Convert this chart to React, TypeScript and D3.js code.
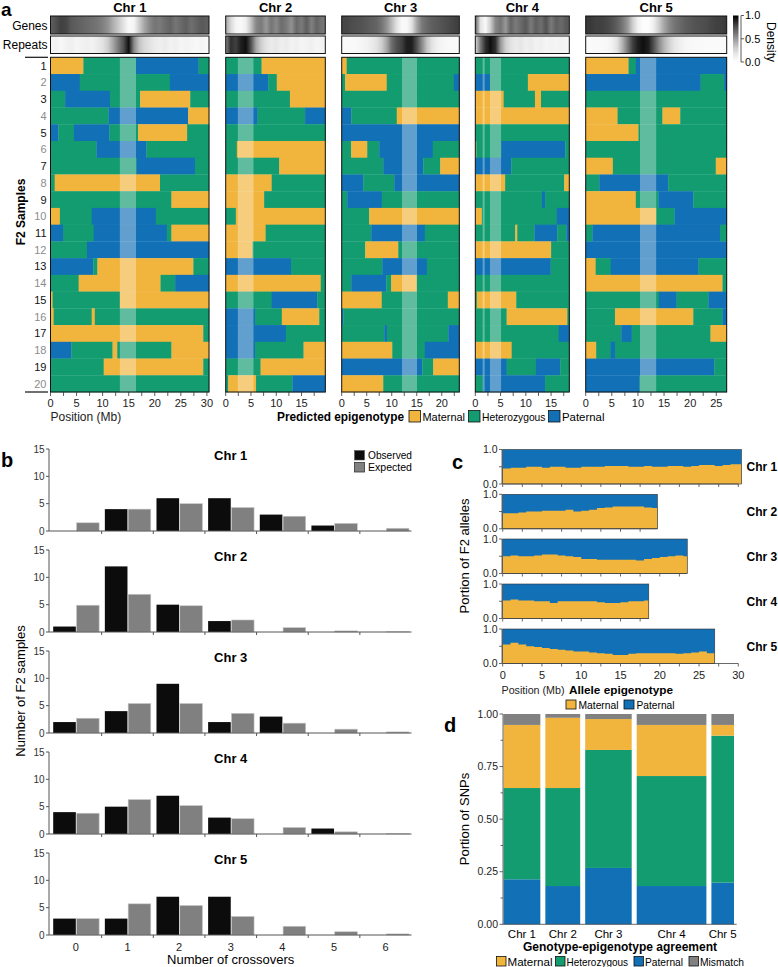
import React from 'react';
import * as d3 from 'd3';

const FONT = '"Liberation Sans", Arial, Helvetica, sans-serif';
const MAT = '#F1B53E';
const HET = '#129C70';
const PAT = '#1270B6';
const MIS = '#818181';
const STATE_COLOR: Record<string, string> = { M: MAT, H: HET, P: PAT };

// ---------- shared data ----------
const chromosomes = ['Chr 1', 'Chr 2', 'Chr 3', 'Chr 4', 'Chr 5'];
const chrLengths = [30.4, 19.7, 23.5, 18.6, 27.0];
const sampleIds = d3.range(1, 21);

// ---------- panel a: density tracks (1 Mb bins) ----------
const geneDensity = [
  [0.7, 0.75, 0.8, 0.78, 0.72, 0.7, 0.68, 0.66, 0.64, 0.62, 0.58, 0.52, 0.42, 0.32, 0.2, 0.05, 0.08, 0.3, 0.45, 0.55, 0.62, 0.6, 0.65, 0.68, 0.62, 0.66, 0.7, 0.64, 0.68, 0.72, 0.7],
  [0.45, 0.25, 0.08, 0.05, 0.12, 0.35, 0.55, 0.6, 0.5, 0.62, 0.55, 0.65, 0.6, 0.52, 0.66, 0.6, 0.7, 0.58, 0.68, 0.62],
  [0.78, 0.78, 0.76, 0.75, 0.74, 0.72, 0.7, 0.68, 0.62, 0.52, 0.38, 0.2, 0.05, 0.05, 0.2, 0.45, 0.6, 0.66, 0.7, 0.72, 0.74, 0.76, 0.78, 0.8],
  [0.7, 0.2, 0.05, 0.3, 0.55, 0.62, 0.5, 0.68, 0.6, 0.66, 0.72, 0.6, 0.7, 0.64, 0.74, 0.6, 0.7, 0.66, 0.72],
  [0.82, 0.82, 0.8, 0.8, 0.78, 0.75, 0.7, 0.62, 0.5, 0.3, 0.1, 0.02, 0.02, 0.12, 0.3, 0.45, 0.55, 0.62, 0.66, 0.7, 0.72, 0.74, 0.75, 0.76, 0.78, 0.8, 0.8, 0.82],
];
const repeatDensity = [
  [0.08, 0.1, 0.06, 0.1, 0.12, 0.08, 0.1, 0.12, 0.1, 0.15, 0.2, 0.3, 0.45, 0.6, 0.75, 0.95, 0.55, 0.35, 0.25, 0.2, 0.15, 0.12, 0.15, 0.1, 0.12, 0.08, 0.1, 0.08, 0.06, 0.08, 0.05],
  [0.55, 0.85, 0.8, 0.9, 0.95, 0.75, 0.45, 0.3, 0.2, 0.15, 0.18, 0.12, 0.15, 0.1, 0.12, 0.08, 0.1, 0.12, 0.08, 0.1],
  [0.05, 0.04, 0.05, 0.06, 0.08, 0.1, 0.15, 0.2, 0.3, 0.45, 0.65, 0.75, 0.8, 0.9, 0.9, 0.75, 0.55, 0.35, 0.2, 0.12, 0.08, 0.06, 0.05, 0.05],
  [0.25, 0.6, 0.85, 0.95, 0.85, 0.5, 0.3, 0.2, 0.15, 0.18, 0.12, 0.15, 0.1, 0.12, 0.08, 0.1, 0.08, 0.1, 0.08],
  [0.04, 0.04, 0.05, 0.05, 0.06, 0.1, 0.2, 0.4, 0.6, 0.8, 0.9, 0.95, 0.9, 0.75, 0.55, 0.4, 0.28, 0.18, 0.12, 0.08, 0.06, 0.05, 0.05, 0.04, 0.04, 0.04, 0.04, 0.04],
];

// centromere highlight (Mb)
const centromeres = [
  [[13.3, 16.4]],
  [[2.4, 5.5]],
  [[12.05, 15.05]],
  [[1.45, 1.85], [2.9, 5.1]],
  [[10.4, 13.5]],
];

// predicted epigenotype blocks, one string per F2 sample: state + end (Mb)
const chr1Blocks = [
  'M6.3 H16.4 P28.4 H', 'P5.6 H22.9 P', 'H2.8 P11.4 H17.2 M26.8 H', 'H11.1 P26.4 M',
  'P1.5 H4.5 P11.3 H16.8 M26.2 H', 'H8.8 P18.4 H', 'H16.5 P27.7 H', 'H0.8 M21.0 H',
  'H23.2 M', 'M1.8 H7.9 P20.2 H', 'P2.4 H8.3 P22.3 H23.2 M', 'H7.0 P',
  'P8.2 H9.0 M27.4 H', 'H5.4 M21.1 H23.9 P', 'M0.4 H13.3 M', 'M0.6 H7.9 M8.5 H',
  'M29.3 H', 'P4.0 H11.9 M12.8 H23.2 M', 'H10.2 M29.3 H', 'H',
];
const chr2Blocks = [
  'H7.1 M', 'P8.4 H10.1 M', 'H12.7 M', 'P6.3 H15.7 P', 'H', 'H2.2 M', 'H10.6 M',
  'M9.1 H', 'M7.6 H', 'H2.0 M', 'M7.9 H', 'M5.3 H', 'P12.9 H', 'M18.8 H',
  'H9.1 P18.1 H', 'P5.8 H11.1 M18.5 H', 'P11.9 H', 'P5.8 H15.4 M', 'H6.9 M',
  'H0.5 M6.0 H13.2 P',
];
const chr3Blocks = [
  'M1.0 H', 'H0.7 M9.0 H22.4 P', 'H', 'P1.9 H11.0 M', 'P', 'H1.9 M5.1 H7.5 P18.2 H',
  'H8.3 P16.3 H19.7 M', 'P4.3 H10.5 P', 'H1.1 P8.0 H', 'H5.5 M', 'H5.9 P16.6 H',
  'H4.7 M11.3 H', 'H8.1 P17.0 H', 'H1.9 P8.9 H9.9 M15.0 H', 'M8.0 H21.2 M', 'P0.3 H',
  'H8.5 P9.0 H21.3 P', 'M10.1 H16.6 P', 'P16.1 H18.3 M', 'M8.3 H',
];
const chr4Blocks = [
  'H', 'P2.9 H10.4 M', 'M5.6 H11.8 M13.0 H', 'M', 'H', 'M0.2 H5.1 P17.8 H', 'P7.1 H',
  'M5.9 H17.6 M', 'H13.2 P13.8 H', 'M1.3 H16.1 P', 'H7.9 M8.3 H11.7 P16.2 H18.0 P',
  'M15.0 H', 'P14.9 H', 'H', 'H0.3 M8.1 H', 'H6.2 M18.2 H', 'H16.5 P', 'M7.2 H',
  'P6.2 H12.0 P16.8 H', 'H1.5 P13.8 H',
];
const chr5Blocks = [
  'M8.2 H9.6 P', 'P22.0 H26.5 P', 'H', 'M6.1 H14.7 M18.1 H', 'M10.1 H', 'H',
  'M5.2 H24.9 M', 'H2.6 P15.8 H', 'M9.6 H13.9 P20.6 H', 'M13.5 H17.0 P', 'H1.3 P25.7 H',
  'P', 'M1.9 H4.8 P21.6 H', 'M26.2 H', 'H14.0 P17.4 H23.5 P', 'H5.6 M20.6 H26.2 P',
  'H6.8 P8.8 H23.9 M', 'M2.0 H4.8 P5.6 H', 'P24.6 H', 'P10.3 H',
];
const allBlocks = [chr1Blocks, chr2Blocks, chr3Blocks, chr4Blocks, chr5Blocks];

const epigenotypes = ['Maternal', 'Heterozygous', 'Paternal'];

// ---------- panel b ----------
const crossoverCounts = [0, 1, 2, 3, 4, 5, 6];
const observedCounts = [
  [0, 4, 6, 6, 3, 1, 0],
  [1, 12, 5, 2, 0, 0, 0],
  [2, 4, 9, 2, 3, 0, 0],
  [4, 5, 7, 3, 0, 1, 0],
  [3, 3, 7, 7, 0, 0, 0],
];
const expectedCounts = [
  [1.5, 4.0, 5.0, 4.3, 2.7, 1.4, 0.5],
  [4.9, 6.9, 4.8, 2.2, 0.8, 0.2, 0.05],
  [2.7, 5.4, 5.4, 3.6, 1.8, 0.7, 0.2],
  [3.8, 6.3, 5.2, 2.8, 1.2, 0.4, 0.05],
  [3.0, 5.7, 5.4, 3.4, 1.6, 0.6, 0.2],
];

// ---------- panel c: maternal allele portion along chromosome (1 Mb steps) ----------
const maternalPortion = [
  [0.45, 0.47, 0.47, 0.5, 0.5, 0.47, 0.5, 0.5, 0.47, 0.47, 0.5, 0.5, 0.5, 0.52, 0.52, 0.52, 0.5, 0.5, 0.52, 0.5, 0.5, 0.52, 0.52, 0.5, 0.52, 0.55, 0.55, 0.52, 0.55, 0.57, 0.57],
  [0.45, 0.45, 0.47, 0.5, 0.5, 0.52, 0.52, 0.52, 0.55, 0.5, 0.52, 0.55, 0.6, 0.62, 0.65, 0.65, 0.65, 0.65, 0.62, 0.6],
  [0.5, 0.52, 0.5, 0.5, 0.52, 0.55, 0.55, 0.52, 0.5, 0.48, 0.42, 0.42, 0.4, 0.4, 0.4, 0.4, 0.4, 0.38, 0.42, 0.45, 0.48, 0.5, 0.52, 0.5],
  [0.52, 0.55, 0.52, 0.52, 0.5, 0.5, 0.45, 0.5, 0.5, 0.5, 0.5, 0.5, 0.47, 0.45, 0.45, 0.47, 0.5, 0.5, 0.52],
  [0.55, 0.6, 0.55, 0.5, 0.48, 0.45, 0.42, 0.4, 0.38, 0.35, 0.35, 0.32, 0.3, 0.28, 0.25, 0.25, 0.28, 0.3, 0.3, 0.3, 0.3, 0.3, 0.28, 0.3, 0.32, 0.35, 0.3, 0.3],
];
const alleleTypes = ['Maternal', 'Paternal'];

// ---------- panel d ----------
const snpWeights = [37, 35, 46.7, 70, 22.7];
const agreePaternal = [0.214, 0.182, 0.268, 0.182, 0.198];
const agreeHetero = [0.434, 0.466, 0.561, 0.523, 0.699];
const agreeMaternal = [0.3, 0.334, 0.147, 0.243, 0.051];
const agreeMismatch = [0.052, 0.018, 0.024, 0.052, 0.052];
const agreeKeys = ['Paternal', 'Heterozygous', 'Maternal', 'Mismatch'];
const agreeLegend = ['Maternal', 'Heterozygous', 'Paternal', 'Mismatch'];
const agreeColors: Record<string, string> = { Maternal: MAT, Heterozygous: HET, Paternal: PAT, Mismatch: MIS };

// ---------- layout ----------
const A_LEFT = [50.5, 225.7, 341.7, 475.3, 585.7];
const A_RIGHT = [209, 325.3, 459.3, 569.3, 726.7];
const A_TOP = 57.3;
const A_BOTTOM = 392;

const B_TOPS = [449, 550, 651, 752, 853];
const B_H = 82;

const C_TOPS = [449.5, 494.3, 539, 584, 629];
const C_H = 34.5;

const parseBlocks = (row: string, len: number) => {
  let start = 0;
  return row.split(' ').map((tok) => {
    const end = tok.length > 1 ? +tok.slice(1) : len;
    const seg = { state: tok[0], start, end };
    start = end;
    return seg;
  });
};

const grey = (v: number) => d3.interpolateGreys(v);

function PanelA() {
  const rowScale = d3.scaleBand<number>().domain(sampleIds).range([A_TOP, A_BOTTOM]);
  return (
    <g>
      <defs>
        {chromosomes.map((_, i) => (
          <React.Fragment key={i}>
            {[geneDensity, repeatDensity].map((track, t) => (
              <linearGradient key={t} id={`dens-${t}-${i}`} x1="0" x2="1" y1="0" y2="0">
                {track[i].map((v, k) => (
                  <stop key={k} offset={Math.min(1, k / chrLengths[i])} stopColor={grey(v)} />
                ))}
              </linearGradient>
            ))}
          </React.Fragment>
        ))}
        <linearGradient id="dens-bar" x1="0" x2="0" y1="0" y2="1">
          {d3.range(0, 1.01, 0.1).map((v) => (
            <stop key={v} offset={v} stopColor={grey(1 - v)} />
          ))}
        </linearGradient>
      </defs>

      <text x={1} y={16} fontSize={19} fontWeight="bold">a</text>
      <text x={47.5} y={29.5} fontSize={12} textAnchor="end">Genes</text>
      <text x={47.5} y={48.5} fontSize={12} textAnchor="end">Repeats</text>

      {chromosomes.map((chr, i) => {
        const x = d3.scaleLinear().domain([0, chrLengths[i]]).range([A_LEFT[i], A_RIGHT[i]]);
        const w = A_RIGHT[i] - A_LEFT[i];
        const ticks = d3.range(0, chrLengths[i] + 0.01, 2.5);
        return (
          <g key={chr}>
            <text x={(A_LEFT[i] + A_RIGHT[i]) / 2} y={12} fontSize={13} fontWeight="bold" textAnchor="middle">{chr}</text>
            <rect x={A_LEFT[i]} y={16} width={w} height={18} fill={`url(#dens-0-${i})`} stroke="#111" strokeWidth={1} />
            <rect x={A_LEFT[i]} y={36} width={w} height={17.5} fill={`url(#dens-1-${i})`} stroke="#111" strokeWidth={1} />
            {allBlocks[i].map((row, r) =>
              parseBlocks(row, chrLengths[i]).map((s, k) => (
                <rect
                  key={`${r}-${k}`}
                  x={x(s.start)}
                  y={rowScale(r + 1)!}
                  width={x(s.end) - x(s.start) + 0.3}
                  height={rowScale.bandwidth() + 0.3}
                  fill={STATE_COLOR[s.state]}
                />
              ))
            )}
            {centromeres[i].map(([a, b], k) => (
              <rect key={k} x={x(a)} y={A_TOP} width={x(b) - x(a)} height={A_BOTTOM - A_TOP} fill="#fff" opacity={0.33} />
            ))}
            <rect x={A_LEFT[i]} y={A_TOP} width={w} height={A_BOTTOM - A_TOP} fill="none" stroke="#111" strokeWidth={1} />
            {ticks.map((t) => (
              <line key={t} x1={x(t)} x2={x(t)} y1={A_BOTTOM} y2={A_BOTTOM + 4} stroke="#333" strokeWidth={0.8} />
            ))}
            {ticks.filter((t) => t % 5 === 0).map((t) => (
              <text key={t} x={x(t)} y={407} fontSize={11} textAnchor="middle" fill="#222">{t}</text>
            ))}
          </g>
        );
      })}

      {sampleIds.map((s) => (
        <text key={s} x={46.5} y={rowScale(s)! + rowScale.bandwidth() / 2} dy="0.36em" fontSize={11}
          textAnchor="end" fill={s % 2 === 1 ? '#111' : '#8c8c8c'}>{s}</text>
      ))}
      <line x1={25} x2={48} y1={A_TOP} y2={A_TOP} stroke="#111" strokeWidth={1.2} />
      <line x1={25} x2={48} y1={A_BOTTOM} y2={A_BOTTOM} stroke="#111" strokeWidth={1.2} />
      <text transform={`translate(25,212) rotate(-90)`} fontSize={12} fontWeight="bold" textAnchor="middle">F2 Samples</text>

      <text x={50.5} y={421} fontSize={12} fill="#222">Position (Mb)</text>
      <text x={277} y={421} fontSize={12} fontWeight="bold" textLength={127} lengthAdjust="spacingAndGlyphs">Predicted epigenotype</text>
      {epigenotypes.map((e, k) => {
        const xs = [409, 468.5, 548.5][k];
        const tl = [42.5, 63.5, 42.5][k];
        return (
          <g key={e}>
            <rect x={xs} y={410.5} width={11.5} height={11.5} fill={STATE_COLOR[e[0]]} stroke="#111" strokeWidth={0.8} />
            <text x={xs + 13.5} y={421} fontSize={11.5} textLength={tl} lengthAdjust="spacingAndGlyphs">{e}</text>
          </g>
        );
      })}

      {/* density colour bar */}
      <rect x={733} y={15.5} width={5.5} height={46.5} fill="url(#dens-bar)" />
      <line x1={741} x2={741} y1={15.5} y2={62} stroke="#333" strokeWidth={0.8} />
      {[1, 0.5, 0].map((v) => {
        const y = 62 - v * 46.5;
        return (
          <g key={v}>
            <line x1={741} x2={744} y1={y} y2={y} stroke="#333" strokeWidth={0.8} />
            <text x={745} y={y} dy="0.35em" fontSize={11}>{v.toFixed(1)}</text>
          </g>
        );
      })}
      <text transform="translate(767,42) rotate(90)" fontSize={12} textAnchor="middle">Density</text>
    </g>
  );
}

function PanelB() {
  const xBand = d3.scaleBand<number>().domain(crossoverCounts).range([50, 411.5]);
  const bw = xBand.bandwidth();
  return (
    <g>
      <text x={1} y={467} fontSize={20} fontWeight="bold">b</text>
      {chromosomes.map((chr, i) => {
        const top = B_TOPS[i];
        const y = d3.scaleLinear().domain([0, 15]).range([top + B_H, top]);
        return (
          <g key={chr}>
            <text x={230.7} y={top + 11} fontSize={13} fontWeight="bold" textAnchor="middle">{chr}</text>
            {observedCounts[i].map((v, k) =>
              v > 0 ? (
                <rect key={`o${k}`} x={xBand(k)! + 3.2} y={y(v)} width={bw / 2 - 3.2} height={y(0) - y(v)} fill="#0c0c0c" />
              ) : null
            )}
            {expectedCounts[i].map((v, k) => (
              <rect key={`e${k}`} x={xBand(k)! + bw / 2 + 0.7} y={y(v)} width={bw / 2 - 3.2} height={y(0) - y(v)}
                fill="#808080" stroke="#c8c8c8" strokeWidth={0.6} />
            ))}
            <line x1={49} x2={49} y1={y(15)} y2={y(0)} stroke="#555" strokeWidth={1} />
            {[0, 5, 10, 15].map((t) => (
              <g key={t}>
                <line x1={46} x2={49} y1={y(t)} y2={y(t)} stroke="#555" strokeWidth={1} />
                <text x={44.5} y={y(t)} dy="0.35em" fontSize={10} textAnchor="end" fill="#333">{t}</text>
              </g>
            ))}
            <line x1={49} x2={411.5} y1={y(0)} y2={y(0)} stroke="#555" strokeWidth={1} />
            {crossoverCounts.slice(1).map((k) => (
              <line key={k} x1={xBand(k)!} x2={xBand(k)!} y1={y(0)} y2={y(0) + 3} stroke="#555" strokeWidth={1} />
            ))}
            {i === 4 &&
              crossoverCounts.map((k) => (
                <text key={k} x={xBand(k)! + bw / 2} y={950.5} fontSize={11} textAnchor="middle" fill="#222">{k}</text>
              ))}
          </g>
        );
      })}
      <rect x={354.5} y={450.5} width={10} height={9.5} fill="#0c0c0c" stroke="#555" strokeWidth={0.6} />
      <text x={368} y={459} fontSize={11} textLength={44} lengthAdjust="spacingAndGlyphs">Observed</text>
      <rect x={354.5} y={462.5} width={10} height={9.5} fill="#808080" stroke="#333" strokeWidth={0.8} />
      <text x={368} y={471} fontSize={11} textLength={44} lengthAdjust="spacingAndGlyphs">Expected</text>
      <text x={230.7} y={964} fontSize={13} textAnchor="middle">Number of crossovers</text>
      <text transform="translate(25,691) rotate(-90)" fontSize={13} textAnchor="middle">Number of F2 samples</text>
    </g>
  );
}

function PanelC() {
  const x = d3.scaleLinear().domain([0, 30]).range([502.7, 738.3]);
  return (
    <g>
      <text x={452} y={469} fontSize={20} fontWeight="bold">c</text>
      {chromosomes.map((chr, i) => {
        const top = C_TOPS[i];
        const len = chrLengths[i];
        const y = d3.scaleLinear().domain([0, 1]).range([top + C_H, top]);
        const vals = maternalPortion[i];
        const pts: [number, number][] = vals.map((v, k) => [k, v]);
        pts.push([len, vals[vals.length - 1]]);
        const area = d3
          .area<[number, number]>()
          .x((d) => x(d[0]))
          .y0(y(0))
          .y1((d) => y(d[1]))
          .curve(d3.curveStepAfter);
        const axisEnd = i === 4 ? 30 : Math.min(30, len);
        const ticks = d3.range(0, axisEnd + 0.01, 2.5);
        return (
          <g key={chr}>
            <rect x={x(0)} y={top} width={x(len) - x(0)} height={C_H} fill={PAT} />
            <path d={area(pts)!} fill={MAT} />
            <rect x={x(0)} y={top} width={x(len) - x(0)} height={C_H} fill="none" stroke="#333" strokeWidth={0.6} />
            <line x1={502} x2={502} y1={top} y2={top + C_H} stroke="#444" strokeWidth={0.8} />
            {[0, 0.5, 1].map((t) => (
              <line key={t} x1={499} x2={502} y1={y(t)} y2={y(t)} stroke="#444" strokeWidth={0.8} />
            ))}
            <text x={497.5} y={y(1)} dy="0.35em" fontSize={10.5} textAnchor="end" fill="#222">1.0</text>
            <text x={497.5} y={y(0)} dy="0.35em" fontSize={10.5} textAnchor="end" fill="#222">0.0</text>
            <line x1={x(0)} x2={x(axisEnd)} y1={top + C_H} y2={top + C_H} stroke="#444" strokeWidth={0.8} />
            {ticks.map((t) => (
              <line key={t} x1={x(t)} x2={x(t)} y1={top + C_H} y2={top + C_H + 3} stroke="#444" strokeWidth={0.8} />
            ))}
            {i === 4 &&
              ticks.filter((t) => t % 5 === 0).map((t) => (
                <text key={t} x={x(t)} y={679} fontSize={11} textAnchor="middle" fill="#222">{t}</text>
              ))}
            <text x={746.5} y={top + C_H / 2} dy="0.36em" fontSize={12} fontWeight="bold">{chr}</text>
          </g>
        );
      })}
      <text transform="translate(469,556) rotate(-90)" fontSize={13} textAnchor="middle">Portion of F2 alleles</text>
      <text x={501.5} y={694} fontSize={11} fill="#222" textLength={63} lengthAdjust="spacingAndGlyphs">Position (Mb)</text>
      <text x={569} y={694} fontSize={11.5} fontWeight="bold" textLength={104} lengthAdjust="spacingAndGlyphs">Allele epigenotype</text>
      {alleleTypes.map((a, k) => {
        const xs = [566, 624][k];
        const tl = [40, 38][k];
        return (
          <g key={a}>
            <rect x={xs} y={700} width={10} height={9} fill={STATE_COLOR[a[0]]} stroke="#111" strokeWidth={0.8} />
            <text x={xs + 12.5} y={708.5} fontSize={11} textLength={tl} lengthAdjust="spacingAndGlyphs">{a}</text>
          </g>
        );
      })}
    </g>
  );
}

function PanelD() {
  const y = d3.scaleLinear().domain([0, 1]).range([924.3, 714]);
  const gap = 5;
  const total = d3.sum(snpWeights);
  const xw = d3.scaleLinear().domain([0, total]).range([503.5, 734 - gap * (snpWeights.length - 1)]);
  const cum = d3.cumsum(snpWeights);
  const table = chromosomes.map((chr, i) => ({
    chr,
    Paternal: agreePaternal[i],
    Heterozygous: agreeHetero[i],
    Maternal: agreeMaternal[i],
    Mismatch: agreeMismatch[i],
  }));
  const series = d3.stack<any>().keys(agreeKeys)(table);
  const barX = (i: number) => xw(cum[i] - snpWeights[i]) + i * gap;
  const barW = (i: number) => xw(snpWeights[i]) - xw(0);
  const majors = [0, 0.25, 0.5, 0.75, 1];
  const minors = [0.125, 0.375, 0.625, 0.875];
  return (
    <g>
      <text x={444} y={732} fontSize={20} fontWeight="bold">d</text>
      {series.map((s) =>
        s.map((d, i) => (
          <rect key={`${s.key}-${i}`} x={barX(i)} y={y(d[1])} width={barW(i)} height={y(d[0]) - y(d[1])} fill={agreeColors[s.key]} />
        ))
      )}
      <line x1={503} x2={503} y1={y(1)} y2={y(0)} stroke="#444" strokeWidth={0.8} />
      <line x1={503} x2={736.7} y1={y(0)} y2={y(0)} stroke="#444" strokeWidth={0.8} />
      {majors.map((t) => (
        <g key={t}>
          <line x1={499.5} x2={503} y1={y(t)} y2={y(t)} stroke="#444" strokeWidth={0.8} />
          <text x={498} y={y(t)} dy="0.35em" fontSize={10.5} textAnchor="end" fill="#222">{t.toFixed(2)}</text>
        </g>
      ))}
      {minors.map((t) => (
        <line key={t} x1={500.5} x2={503} y1={y(t)} y2={y(t)} stroke="#444" strokeWidth={0.8} />
      ))}
      {chromosomes.map((chr, i) => (
        <text key={chr} x={barX(i) + barW(i) / 2} y={937.5} fontSize={11.5} textAnchor="middle">{chr}</text>
      ))}
      <text transform="translate(469,819) rotate(-90)" fontSize={13} textAnchor="middle">Portion of SNPs</text>
      <text x={620} y={951} fontSize={12} fontWeight="bold" textAnchor="middle">Genotype-epigenotype agreement</text>
      {agreeLegend.map((k, j) => {
        const xs = [496.5, 555.5, 634, 689][j];
        const tl = [45, 61.5, 38, 44][j];
        return (
          <g key={k}>
            <rect x={xs} y={956.5} width={9.5} height={9.5} fill={agreeColors[k]} stroke="#111" strokeWidth={0.8} />
            <text x={xs + 11} y={965.5} fontSize={11.5} textLength={tl} lengthAdjust="spacingAndGlyphs">{k}</text>
          </g>
        );
      })}
    </g>
  );
}

export default function App() {
  return (
    <svg
      width={778}
      height={967}
      style={{ position: 'absolute', left: 0, top: 0, display: 'block', fontFamily: FONT }}
    >
      <rect width={778} height={967} fill="#fff" />
      <PanelA />
      <PanelB />
      <PanelC />
      <PanelD />
    </svg>
  );
}
